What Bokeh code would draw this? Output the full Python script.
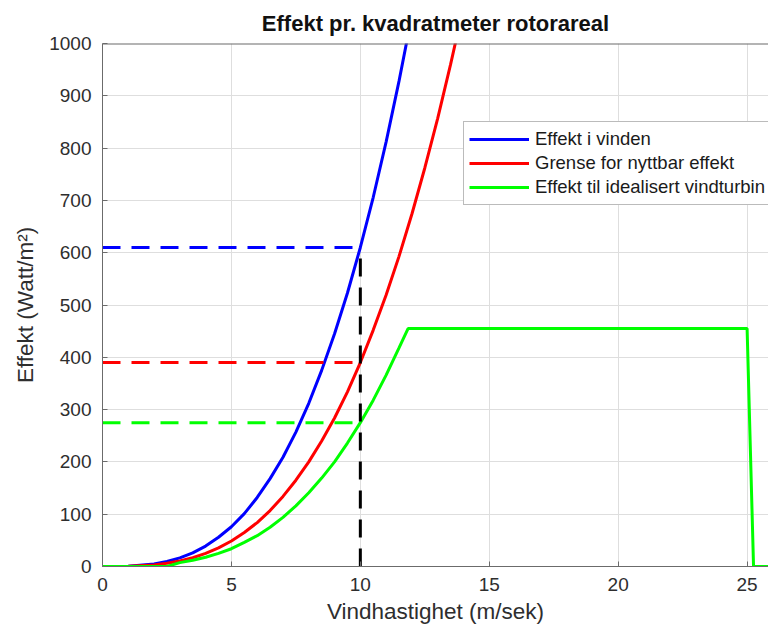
from bokeh.plotting import figure
from bokeh.models import Range1d, FixedTicker, Span
from bokeh.embed import file_html
from bokeh.resources import INLINE

# ---- data ----
title_text = "Effekt pr. kvadratmeter rotorareal"
x_label = "Vindhastighet (m/sek)"
y_label = "Effekt (Watt/m²)"

x_ticks = [0, 5, 10, 15, 20, 25]
y_ticks = [0, 100, 200, 300, 400, 500, 600, 700, 800, 900, 1000]

blue_v = [0, 1, 2, 2.5, 3, 3.5, 4, 4.5, 5, 5.5, 6, 6.5, 7, 7.5, 8, 8.5, 9, 9.5, 10, 10.5, 11, 11.5, 12]
blue_p = [0, 0.6, 4.9, 9.5, 16.5, 26, 39, 56, 76, 101, 132, 168, 209, 257, 312, 375, 445, 523, 610, 706, 812, 928, 1054]

red_v = [0, 1, 2, 2.5, 3, 3.5, 4, 4.5, 5, 5.5, 6, 6.5, 7, 7.5, 8, 8.5, 9, 9.5, 10, 10.5, 11, 11.5, 12, 12.5, 13, 13.5, 14]
red_p = [0, 0.4, 3.1, 6.1, 10.5, 16.7, 25, 35.5, 48.8, 65, 84, 107, 134, 165, 200, 240, 284, 334, 390, 452, 519, 593, 674, 762, 857, 960, 1070]

green_v = [0, 2.5, 3, 3.5, 4, 4.5, 5, 5.5, 6, 6.5, 7, 7.5, 8, 8.5, 9, 9.5, 10, 10.5, 11, 11.5, 11.85, 25.0, 25.25, 26]
green_p = [0, 0, 7.4, 11.8, 17.6, 25, 34, 46, 59, 75, 94, 116, 141, 169, 200, 236, 275, 318, 366, 418, 455, 455, 0, 0]

series_names = ["Effekt i vinden", "Grense for nyttbar effekt", "Effekt til idealisert vindturbin"]

ref_speed = 10
ref_blue = 610
ref_red = 390
ref_green = 275

FONT = "Liberation Sans"
AX = "#6b6b6b"
TXT = "#2e2e2e"

p = figure(width=768, height=627, output_backend="svg", toolbar_location=None,
           x_range=Range1d(0, 25.83), y_range=Range1d(0, 1000),
           min_border_left=102, min_border_right=0, min_border_top=43, min_border_bottom=61,
           title=title_text)
p.outline_line_color = None
p.background_fill_color = "white"
p.border_fill_color = "white"

p.title.align = "center"
p.title.text_font = FONT
p.title.text_font_size = "22px"
p.title.text_font_style = "bold"
p.title.text_color = "#111111"
p.title.standoff = 16

for ax in (p.xaxis[0], p.yaxis[0]):
    ax.axis_line_color = AX
    ax.major_tick_line_color = AX
    ax.major_tick_in = 5
    ax.major_tick_out = 0
    ax.minor_tick_line_color = None
    ax.major_label_text_font = FONT
    ax.major_label_text_font_size = "19px"
    ax.major_label_text_color = TXT
    ax.axis_label_text_font = FONT
    ax.axis_label_text_font_size = "22.5px"
    ax.axis_label_text_font_style = "normal"
    ax.axis_label_text_color = TXT

p.xaxis[0].ticker = FixedTicker(ticks=x_ticks)
p.yaxis[0].ticker = FixedTicker(ticks=y_ticks)
p.xaxis[0].major_label_standoff = 11
p.yaxis[0].major_label_standoff = 11

p.xaxis[0].axis_label = x_label
p.xaxis[0].axis_label_standoff = 5
p.yaxis[0].axis_label = y_label
p.yaxis[0].axis_label_standoff = 8

# top edge of the axes box
p.add_layout(Span(location=1000, dimension="width", line_color=AX, line_width=2))

p.xgrid.ticker = FixedTicker(ticks=x_ticks)
p.ygrid.ticker = FixedTicker(ticks=y_ticks)
p.xgrid.grid_line_color = "#dedede"
p.ygrid.grid_line_color = "#dedede"

p.line(blue_v, blue_p, line_color="#0000ff", line_width=3, legend_label=series_names[0])
p.line(red_v, red_p, line_color="#ff0000", line_width=3, legend_label=series_names[1])
p.line(green_v, green_p, line_color="#00ff00", line_width=3, legend_label=series_names[2])

dash = "18 11"
p.line([0, ref_speed], [ref_blue, ref_blue], line_color="#0000ff", line_width=3, line_dash=dash)
p.line([0, ref_speed], [ref_red, ref_red], line_color="#ff0000", line_width=3, line_dash=dash)
p.line([0, ref_speed], [ref_green, ref_green], line_color="#00ff00", line_width=3, line_dash=dash)
p.line([ref_speed, ref_speed], [0, ref_blue], line_color="black", line_width=3, line_dash=dash)

lg = p.legend[0]
lg.location = (361, 361)
lg.label_text_font = FONT
lg.label_text_font_size = "18.5px"
lg.label_text_color = "#1a1a1a"
lg.glyph_width = 60
lg.glyph_height = 24
lg.label_height = 24
lg.spacing = 0
lg.padding = 5
lg.margin = 0
lg.label_standoff = 6
lg.border_line_color = "#777777"
lg.border_line_width = 1
lg.background_fill_color = "white"
lg.background_fill_alpha = 1

open("out.html", "w").write(file_html(p, INLINE))
